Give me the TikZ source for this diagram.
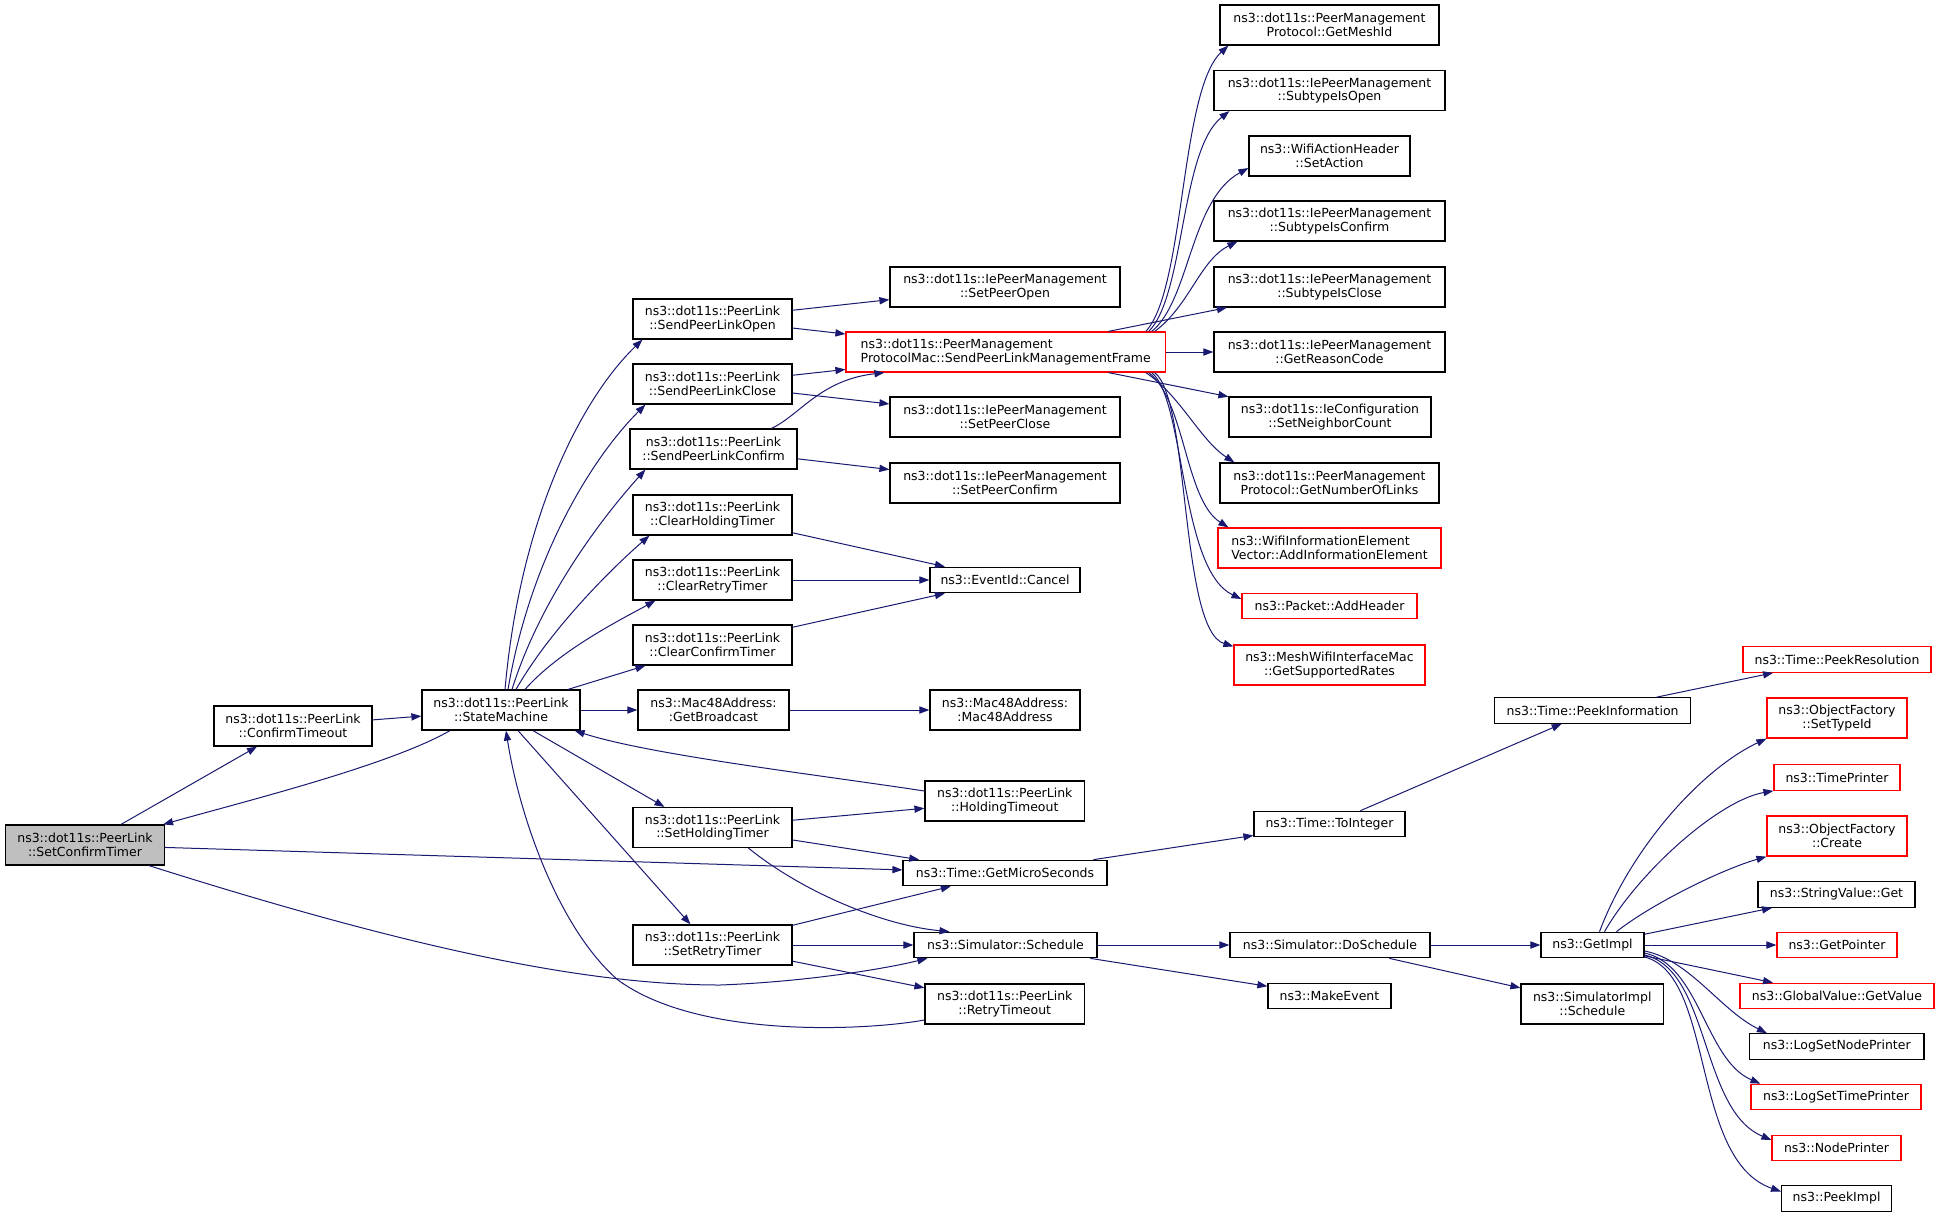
\documentclass[tikz,border=0pt]{standalone}
\usepackage{fontspec}
\setmainfont{DejaVu Sans}
\usetikzlibrary{arrows.meta}
\definecolor{edgeblue}{HTML}{191970}
\definecolor{callred}{HTML}{FF0000}
\definecolor{rootgray}{HTML}{BFBFBF}
\begin{document}
\begin{tikzpicture}[x=0.5pt,y=-0.5pt,
    fn/.style={draw=black, line width=0.6pt, rectangle, inner sep=0pt, align=center,
        font=\fontsize{6.25}{6.8}\selectfont},
    fnred/.style={fn, draw=callred},
    fnroot/.style={fn, fill=rootgray},
    two/.style={minimum height=20pt},
    one/.style={minimum height=12.75pt},
    call/.style={draw=edgeblue, line width=0.5pt, -{Triangle[length=5pt,width=3.6pt]}}]
    \useasboundingbox (0,0) rectangle (1939,1217);

    % callers and the state machine
    \node[fnroot, two, minimum width=79.5pt] (sct) at (85,845) {ns3::dot11s::PeerLink\\::SetConfirmTimer};
    \node[fn, two, minimum width=79pt] (ct) at (293,726) {ns3::dot11s::PeerLink\\::ConfirmTimeout};
    \node[fn, two, minimum width=79pt] (sm) at (501,710) {ns3::dot11s::PeerLink\\::StateMachine};

    % second column
    \node[fn, two, minimum width=79.5pt] (splo) at (712.5,319) {ns3::dot11s::PeerLink\\::SendPeerLinkOpen};
    \node[fn, two, minimum width=79.5pt] (splc) at (712.5,384) {ns3::dot11s::PeerLink\\::SendPeerLinkClose};
    \node[fn, two, minimum width=83.5pt] (splcf) at (713.5,449) {ns3::dot11s::PeerLink\\::SendPeerLinkConfirm};
    \node[fn, two, minimum width=79.5pt] (cht) at (712.5,515) {ns3::dot11s::PeerLink\\::ClearHoldingTimer};
    \node[fn, two, minimum width=79.5pt] (crt) at (712.5,580) {ns3::dot11s::PeerLink\\::ClearRetryTimer};
    \node[fn, two, minimum width=79.5pt] (cct) at (712.5,645) {ns3::dot11s::PeerLink\\::ClearConfirmTimer};
    \node[fn, two, minimum width=75.5pt] (gb) at (713.5,710) {ns3::Mac48Address:\\:GetBroadcast};
    \node[fn, two, minimum width=79.5pt] (sht) at (712.5,827.5) {ns3::dot11s::PeerLink\\::SetHoldingTimer};
    \node[fn, two, minimum width=79.5pt] (srt) at (712.5,945) {ns3::dot11s::PeerLink\\::SetRetryTimer};

    % third column
    \node[fn, two, minimum width=115pt] (spo) at (1005,287) {ns3::dot11s::IePeerManagement\\::SetPeerOpen};
    \node[fnred, two, minimum width=159.75pt, align=left] (spmf) at (1005.75,352) {ns3::dot11s::PeerManagement\\ProtocolMac::SendPeerLinkManagementFrame};
    \node[fn, two, minimum width=115pt] (spc) at (1005,417) {ns3::dot11s::IePeerManagement\\::SetPeerClose};
    \node[fn, two, minimum width=115pt] (spcf) at (1005,483) {ns3::dot11s::IePeerManagement\\::SetPeerConfirm};
    \node[fn, one, minimum width=75pt] (cancel) at (1005,580) {ns3::EventId::Cancel};
    \node[fn, two, minimum width=75pt] (mac) at (1005,710) {ns3::Mac48Address:\\:Mac48Address};
    \node[fn, two, minimum width=79.75pt] (hto) at (1004.75,801) {ns3::dot11s::PeerLink\\::HoldingTimeout};
    \node[fn, one, minimum width=102pt] (gms) at (1005,873) {ns3::Time::GetMicroSeconds};
    \node[fn, one, minimum width=91.5pt] (sched) at (1005.5,945) {ns3::Simulator::Schedule};
    \node[fn, two, minimum width=79.75pt] (rto) at (1004.75,1004) {ns3::dot11s::PeerLink\\::RetryTimeout};

    % fourth column
    \node[fn, two, minimum width=109.5pt] (meshid) at (1329.5,25) {ns3::dot11s::PeerManagement\\Protocol::GetMeshId};
    \node[fn, two, minimum width=115.5pt] (sio) at (1329.5,90.5) {ns3::dot11s::IePeerManagement\\::SubtypeIsOpen};
    \node[fn, two, minimum width=80.5pt] (sa) at (1329.5,156) {ns3::WifiActionHeader\\::SetAction};
    \node[fn, two, minimum width=115.5pt] (sic) at (1329.5,221) {ns3::dot11s::IePeerManagement\\::SubtypeIsConfirm};
    \node[fn, two, minimum width=115.5pt] (sicl) at (1329.5,287) {ns3::dot11s::IePeerManagement\\::SubtypeIsClose};
    \node[fn, two, minimum width=115.5pt] (grc) at (1329.5,352) {ns3::dot11s::IePeerManagement\\::GetReasonCode};
    \node[fn, two, minimum width=101pt] (snc) at (1330,417) {ns3::dot11s::IeConfiguration\\::SetNeighborCount};
    \node[fn, two, minimum width=109.5pt] (gnl) at (1329.5,483) {ns3::dot11s::PeerManagement\\Protocol::GetNumberOfLinks};
    \node[fnred, two, minimum width=111.5pt, align=left] (aie) at (1329.5,548) {ns3::WifiInformationElement\\Vector::AddInformationElement};
    \node[fnred, one, minimum width=87.5pt] (ah) at (1329.5,606) {ns3::Packet::AddHeader};
    \node[fnred, two, minimum width=95.5pt] (gsr) at (1329.5,665) {ns3::MeshWifiInterfaceMac\\::GetSupportedRates};
    \node[fn, one, minimum width=75.5pt] (toint) at (1329.5,824) {ns3::Time::ToInteger};
    \node[fn, one, minimum width=100pt] (dosch) at (1330,945) {ns3::Simulator::DoSchedule};
    \node[fn, one, minimum width=61.5pt] (mkev) at (1329.5,996) {ns3::MakeEvent};

    % fifth column
    \node[fn, one, minimum width=98pt] (pinf) at (1592.6,710.5) {ns3::Time::PeekInformation};
    \node[fn, one, minimum width=51.5pt] (gimpl) at (1592.5,945) {ns3::GetImpl};
    \node[fn, two, minimum width=71.25pt] (simpl) at (1592.25,1004) {ns3::SimulatorImpl\\::Schedule};

    % last column
    \node[fnred, one, minimum width=94pt] (pres) at (1837,659.5) {ns3::Time::PeekResolution};
    \node[fnred, two, minimum width=70pt] (stid) at (1837,718) {ns3::ObjectFactory\\::SetTypeId};
    \node[fnred, one, minimum width=63pt] (tp) at (1837,777.5) {ns3::TimePrinter};
    \node[fnred, two, minimum width=70pt] (ofc) at (1837,836) {ns3::ObjectFactory\\::Create};
    \node[fn, one, minimum width=78.5pt] (svg) at (1836.5,894.5) {ns3::StringValue::Get};
    \node[fnred, one, minimum width=60pt] (gp) at (1837,945) {ns3::GetPointer};
    \node[fnred, one, minimum width=97pt] (gvg) at (1837,996) {ns3::GlobalValue::GetValue};
    \node[fn, one, minimum width=87.25pt] (lsnp) at (1836.75,1046.5) {ns3::LogSetNodePrinter};
    \node[fnred, one, minimum width=85pt] (lstp) at (1836,1097) {ns3::LogSetTimePrinter};
    \node[fnred, one, minimum width=64.5pt] (np) at (1836.5,1148) {ns3::NodePrinter};
    \node[fn, one, minimum width=55pt] (pimpl) at (1836.6,1198.5) {ns3::PeekImpl};

    % SetConfirmTimer and the state machine
    \draw[call] (sct) -- (ct);
    \draw[call] (sct) -- (gms);
    \draw[call] ([xshift=32pt]sct.south) .. controls (400,945) and (580,985) .. (720,985)
        .. controls (800,982) and (880,970) .. ([xshift=7pt]sched.south west);
    \draw[call] (ct) -- (sm);
    \draw[call] ([xshift=-25.5pt]sm.south) .. controls (390,765) and (250,800) .. ([xshift=-1pt]sct.north east);
    \draw[call] ([xshift=2pt]sm.north) .. controls (520,520) and (580,400) .. ([xshift=5pt]splo.south west);
    \draw[call] ([xshift=3.5pt]sm.north) .. controls (530,560) and (590,460) .. ([xshift=6.5pt]splc.south west);
    \draw[call] ([xshift=5.5pt]sm.north) .. controls (540,600) and (600,520) .. ([xshift=8pt]splcf.south west);
    \draw[call] ([xshift=7.5pt]sm.north) .. controls (550,630) and (610,570) .. ([xshift=8.5pt]cht.south west);
    \draw[call] ([xshift=12pt]sm.north) .. controls (560,650) and (620,620) .. ([xshift=11.5pt]crt.south west);
    \draw[call] (sm) -- (cct);
    \draw[call] (sm) -- (gb);
    \draw[call] ([xshift=16pt]sm.south) -- ([xshift=-24pt]sht.north);
    \draw[call] ([xshift=8.5pt]sm.south) -- ([xshift=-11pt]srt.north);
    \draw[call] ([yshift=5pt]hto.west) .. controls (820,775) and (650,755) .. ([xshift=-3pt]sm.south east);
    \draw[call] ([yshift=-8pt]rto.west) .. controls (870,1030) and (700,1040) .. (618,980)
        .. controls (560,930) and (520,820) .. ([xshift=2.5pt]sm.south);

    % second column calls
    \draw[call] (splo) -- (spo);
    \draw[call] (splo) -- (spmf);
    \draw[call] (splc) -- (spmf);
    \draw[call] (splc) -- (spc);
    \draw[call] ([xshift=29pt]splcf.north) .. controls (800,415) and (820,380) .. ([xshift=19.5pt]spmf.south west);
    \draw[call] (splcf) -- (spcf);
    \draw[call] (cht) -- (cancel);
    \draw[call] (crt) -- (cancel);
    \draw[call] (cct) -- (cancel);
    \draw[call] (gb) -- (mac);
    \draw[call] (sht) -- (hto);
    \draw[call] (sht) -- (gms);
    \draw[call] ([xshift=18pt]sht.south) .. controls (800,890) and (880,925) .. ([xshift=-28pt]sched.north);
    \draw[call] (srt) -- (gms);
    \draw[call] (srt) -- (sched);
    \draw[call] (srt) -- (rto);

    % SendPeerLinkManagementFrame
    \draw[call] ([xshift=70pt]spmf.north) .. controls (1185,290) and (1180,90) .. ([xshift=4.5pt]meshid.south west);
    \draw[call] ([xshift=71.5pt]spmf.north) .. controls (1185,295) and (1180,150) .. ([xshift=8pt]sio.south west);
    \draw[call] ([xshift=73pt]spmf.north) .. controls (1190,300) and (1190,200) .. ([yshift=-6pt]sa.west);
    \draw[call] ([xshift=74.5pt]spmf.north) .. controls (1190,305) and (1200,260) .. ([xshift=12pt]sic.south west);
    \draw[call] (spmf) -- (sicl);
    \draw[call] (spmf) -- (grc);
    \draw[call] (spmf) -- (snc);
    \draw[call] ([xshift=70pt]spmf.south) .. controls (1180,395) and (1200,440) .. ([xshift=7.5pt]gnl.north west);
    \draw[call] ([xshift=71.5pt]spmf.south) .. controls (1185,400) and (1185,500) .. ([xshift=5.5pt]aie.north west);
    \draw[call] ([xshift=73pt]spmf.south) .. controls (1185,400) and (1180,570) .. ([yshift=3.5pt]ah.west);
    \draw[call] ([xshift=74.5pt]spmf.south) .. controls (1190,400) and (1180,630) .. ([yshift=-1pt]gsr.north west);

    % time and simulator
    \draw[call] (gms) -- (toint);
    \draw[call] (toint) -- (pinf);
    \draw[call] (pinf) -- (pres);
    \draw[call] (sched) -- (dosch);
    \draw[call] (sched) -- (mkev);
    \draw[call] (dosch) -- (gimpl);
    \draw[call] (dosch) -- (simpl);

    % GetImpl
    \draw[call] ([xshift=3.5pt]gimpl.north) .. controls (1630,850) and (1700,770) .. (stid.south west);
    \draw[call] ([xshift=6pt]gimpl.north) .. controls (1640,870) and (1720,800) .. (tp.south west);
    \draw[call] ([xshift=12pt]gimpl.north) .. controls (1650,905) and (1720,870) .. (ofc.south west);
    \draw[call] (gimpl) -- (svg);
    \draw[call] (gimpl) -- (gp);
    \draw[call] (gimpl) -- (gvg);
    \draw[call] ([yshift=-3pt]gimpl.east) .. controls (1690,960) and (1720,1010) .. ([xshift=9pt]lsnp.north west);
    \draw[call] ([yshift=-4pt]gimpl.east) .. controls (1700,965) and (1705,1060) .. ([xshift=5pt]lstp.north west);
    \draw[call] ([yshift=-5pt]gimpl.east) .. controls (1710,970) and (1700,1110) .. ([yshift=4pt]np.west);
    \draw[call] ([yshift=-6pt]gimpl.east) .. controls (1715,975) and (1690,1160) .. ([yshift=3.5pt]pimpl.west);
\end{tikzpicture}
\end{document}
